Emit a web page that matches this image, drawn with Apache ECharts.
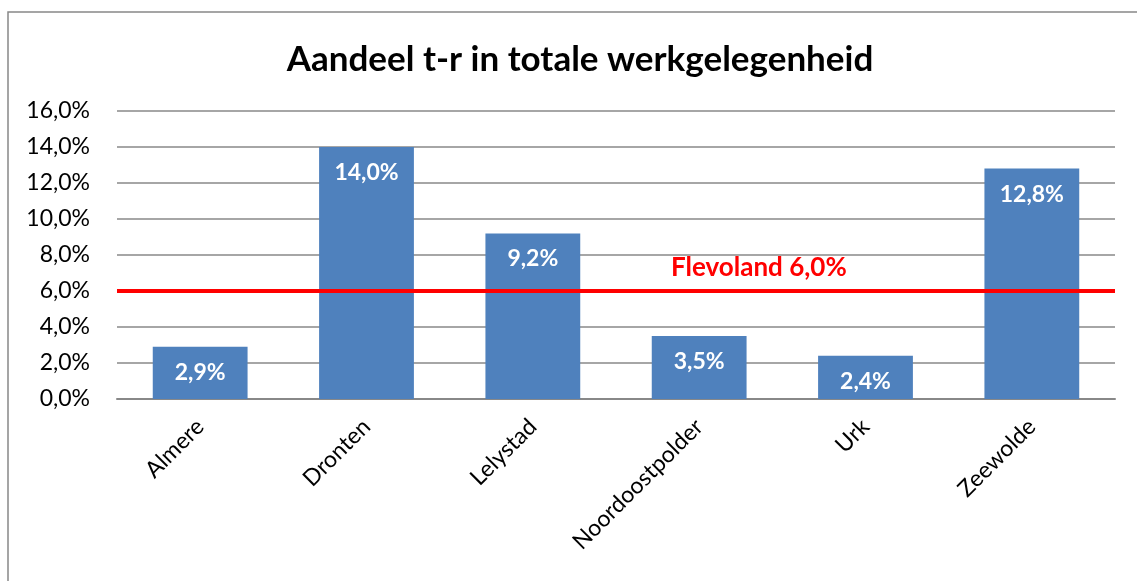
<!DOCTYPE html>
<html>
<head>
<meta charset="utf-8">
<script src="https://cdn.jsdelivr.net/npm/echarts@6/dist/echarts.min.js"></script>
<style>
  html, body { margin: 0; padding: 0; background: #fff; }
  #chart { width: 1137px; height: 581px; }
</style>
</head>
<body>
<div id="chart"></div>
<script>
var categories = ['Almere', 'Dronten', 'Lelystad', 'Noordoostpolder', 'Urk', 'Zeewolde'];
var shares = [2.9, 14.0, 9.2, 3.5, 2.4, 12.8];
var provinceAverage = 6.0;
var provinceName = 'Flevoland';

function pct(v) {
  return v.toFixed(1).replace('.', ',') + '%';
}

var font = 'Lato, "Open Sans", sans-serif';
var chart = echarts.init(document.getElementById('chart'));
chart.setOption({
  animation: false,
  textStyle: { fontFamily: font },
  title: {
    text: 'Aandeel t-r in totale werkgelegenheid',
    left: 575,
    top: 37,
    textAlign: 'center',
    textStyle: { fontSize: 35, fontWeight: 'bold', color: '#000', fontFamily: font }
  },
  graphic: [{
    type: 'rect',
    shape: { x: 8, y: 12, width: 1200, height: 700 },
    style: { fill: 'none', stroke: '#888', lineWidth: 1.5 },
    silent: true
  }, {
    type: 'text',
    left: 671,
    top: 255,
    style: {
      text: provinceName + ' ' + pct(provinceAverage),
      fill: '#ff0000',
      font: 'bold 26px ' + font
    },
    z: 10
  }],
  grid: { left: 117, right: 22, top: 111, bottom: 182 },
  xAxis: {
    type: 'category',
    data: categories,
    axisLine: { lineStyle: { color: '#888', width: 2 } },
    axisTick: { show: false },
    axisLabel: { rotate: 45, fontSize: 23, color: '#000', margin: 24 }
  },
  yAxis: {
    type: 'value',
    min: 0,
    max: 16,
    interval: 2,
    axisLine: { show: false },
    axisTick: { show: false },
    splitLine: { lineStyle: { color: '#888', width: 1.5 } },
    axisLabel: { formatter: pct, fontSize: 23, color: '#000', margin: 27 }
  },
  series: [{
    type: 'bar',
    data: shares,
    barWidth: '57%',
    itemStyle: { color: '#4f81bd' },
    label: {
      show: true,
      position: 'insideTop',
      distance: 14,
      formatter: function (p) { return pct(p.value); },
      color: '#fff',
      fontSize: 23,
      fontWeight: 'bold'
    },
    markLine: {
      silent: true,
      symbol: 'none',
      label: { show: false },
      lineStyle: { color: '#ff0000', width: 4, type: 'solid' },
      data: [{ yAxis: provinceAverage }]
    }
  }]
});
</script>
</body>
</html>
